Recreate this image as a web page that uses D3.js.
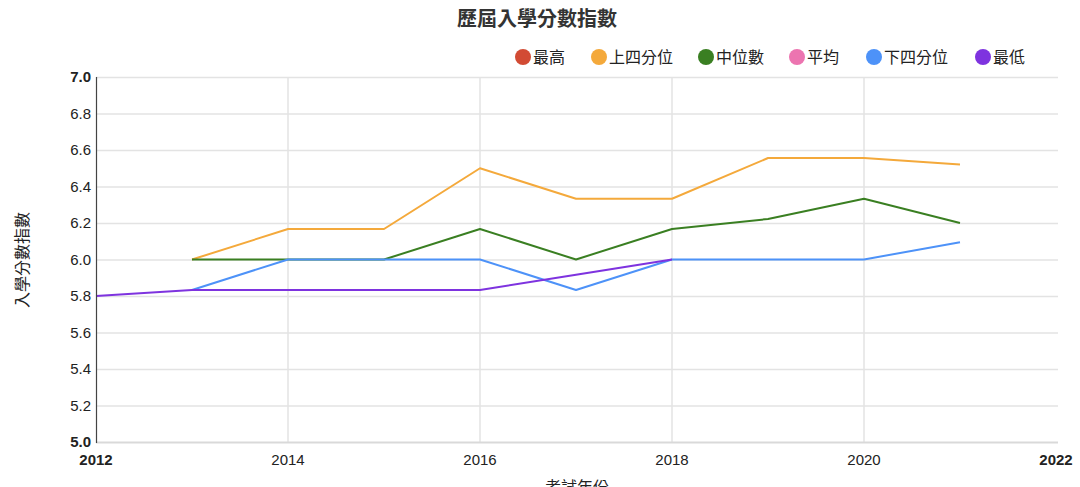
<!DOCTYPE html>
<html><head><meta charset="utf-8">
<script src="https://cdn.jsdelivr.net/npm/d3@7"></script>
<style>
body{margin:0;background:#fff;}
svg text{font-family:"Liberation Sans",Arial,"Noto Sans CJK TC",sans-serif;}
</style></head>
<body><svg id="c" width="1080" height="487"></svg>
<script>
const years = [2012,2013,2014,2015,2016,2017,2018,2019,2020,2021];
const seriesNames = ["最高","上四分位","中位數","平均","下四分位","最低"];
const seriesColors = ["#d24b34","#f4a93b","#3a7f22","#ec74b0","#4d92f8","#7e33df"];
const maxVals   = [null,null,null,null,null,null,null,null,null,null];
const upperQ    = [null,6.0,6.167,6.167,6.5,6.333,6.333,6.556,6.556,6.52];
const medianV   = [null,6.0,6.0,6.0,6.167,6.0,6.167,6.222,6.333,6.2];
const meanVals  = [null,null,null,null,null,null,null,null,null,null];
const lowerQ    = [null,5.833,6.0,6.0,6.0,5.833,6.0,6.0,6.0,6.095];
const minVals   = [5.8,5.833,5.833,5.833,5.833,5.917,6.0,null,null,null];
const xTicks = [2012,2014,2016,2018,2020,2022];
const yTicks = [5.0,5.2,5.4,5.6,5.8,6.0,6.2,6.4,6.6,6.8,7.0];
const title = "歷屆入學分數指數";
const xTitle = "考試年份";
const yTitle = "入學分數指數";

const allSeries = [maxVals,upperQ,medianV,meanVals,lowerQ,minVals];
const svg = d3.select("#c");
const L=96,R=1058,T=77,B=442;
const x = d3.scaleLinear().domain([2012,2022]).range([L,L+960]);
const y = d3.scaleLinear().domain([5,7]).range([B,T]);

// gridlines
svg.append("g").selectAll("line").data(yTicks.slice(1)).join("line")
  .attr("x1",L).attr("x2",R).attr("y1",d=>y(d)+0.5).attr("y2",d=>y(d)+0.5)
  .attr("stroke","#e3e3e3").attr("stroke-width",1.5);
svg.append("g").selectAll("line").data(xTicks.slice(1,-1)).join("line")
  .attr("x1",d=>x(d)).attr("x2",d=>x(d)).attr("y1",T).attr("y2",B)
  .attr("stroke","#e3e3e3").attr("stroke-width",1.5);
// baseline
svg.append("line").attr("x1",L).attr("x2",R).attr("y1",B+0.5).attr("y2",B+0.5)
  .attr("stroke","#d9d9d9").attr("stroke-width",2);

// lines
const line = d3.line().defined(d=>d.v!=null).x(d=>x(d.yr)).y(d=>y(d.v));
allSeries.forEach((s,i)=>{
  const data = years.map((yr,j)=>({yr,v:s[j]}));
  svg.append("path").datum(data).attr("d",line).attr("fill","none")
    .attr("stroke",seriesColors[i]).attr("stroke-width",2).attr("stroke-linejoin","round");
});

// left axis line
svg.append("line").attr("x1",L+0.5).attr("x2",L+0.5).attr("y1",T).attr("y2",B+1)
  .attr("stroke","#444").attr("stroke-width",1.2);

// y tick labels
svg.append("g").selectAll("text").data(yTicks).join("text")
  .attr("x",91).attr("y",d=>y(d)+5).attr("text-anchor","end")
  .attr("font-size",15).attr("fill","#222")
  .attr("font-weight",(d,i)=>(i===0||i===yTicks.length-1)?"bold":"normal")
  .text(d=>d.toFixed(1));
// x tick labels
svg.append("g").selectAll("text").data(xTicks).join("text")
  .attr("x",d=>x(d)).attr("y",465).attr("text-anchor","middle")
  .attr("font-size",15).attr("fill","#222")
  .attr("font-weight",(d,i)=>(i===0||i===xTicks.length-1)?"bold":"normal")
  .text(d=>d);

// titles
svg.append("text").attr("x",537).attr("y",26).attr("text-anchor","middle")
  .attr("font-size",20).attr("font-weight","bold").attr("fill","#333").text(title);
svg.append("text").attr("x",577).attr("y",493).attr("text-anchor","middle")
  .attr("font-size",16).attr("fill","#222").text(xTitle);
svg.append("text").attr("transform","translate(28,260) rotate(-90)").attr("text-anchor","middle")
  .attr("font-size",16).attr("fill","#222").text(yTitle);

// legend
const legX = [523,599,706,797,874,983];
const lg = svg.append("g").selectAll("g").data(seriesNames).join("g")
  .attr("transform",(d,i)=>`translate(${legX[i]},57)`);
lg.append("circle").attr("r",8).attr("fill",(d,i)=>seriesColors[i]);
lg.append("text").attr("x",10).attr("y",6).attr("font-size",16).attr("fill","#222").text(d=>d);
</script></body></html>
